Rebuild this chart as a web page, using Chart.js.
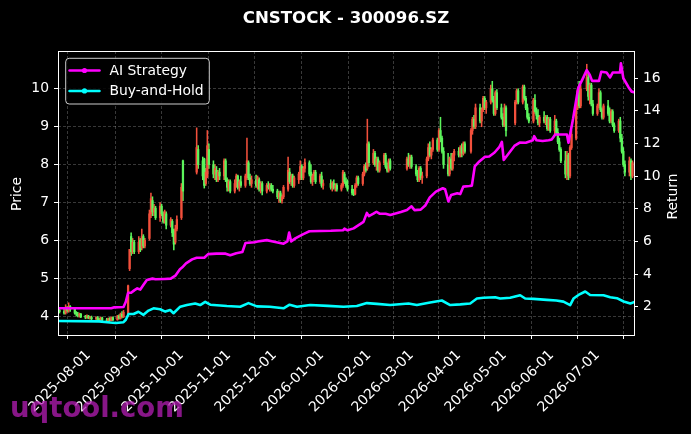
<!DOCTYPE html>
<html><head><meta charset="utf-8">
<script src="https://cdn.jsdelivr.net/npm/chart.js@4.4.1/dist/chart.umd.min.js"></script>
<style>html,body{margin:0;padding:0;background:#000;}#wrap{width:691px;height:434px;}canvas{display:block;}</style>
</head><body><div id="wrap"><canvas id="c" width="691" height="434"></canvas></div>
<script>
const titleText = 'CNSTOCK - 300096.SZ';
const priceLabel = 'Price';
const returnLabel = 'Return';
const watermarkText = 'uqtool.com';

const tradeMonths = ['2025-07','2025-08','2025-09','2025-10','2025-11','2025-12','2026-01','2026-02','2026-03','2026-04','2026-05','2026-06','2026-07'];
const tradeDays = [
  [10,11,14,15,16,17,18,21,22,23,24,25,28,29,30,31],
  [1,4,5,6,7,8,11,12,13,14,15,18,19,20,21,22,25,26,27,28,29],
  [1,2,3,4,5,8,9,10,11,12,15,16,17,18,19,22,23,24,25,26,29,30],
  [9,10,13,14,15,16,17,20,21,22,23,24,27,28,29,30,31],
  [3,4,5,6,7,10,11,12,13,14,17,18,19,20,21,24,25,26,27,28],
  [1,2,3,4,5,8,9,10,11,12,15,16,17,18,19,22,23,24,25,26,29,30,31],
  [5,6,7,8,9,12,13,14,15,16,19,20,21,22,23,26,27,28,29,30],
  [2,3,4,5,6,9,10,11,12,13,24,25,26,27],
  [2,3,4,5,6,9,10,11,12,13,16,17,18,19,20,23,24,25,26,27,30,31],
  [1,2,3,7,8,9,10,13,14,15,16,17,20,21,22,23,24,27,28,29,30],
  [6,7,8,11,12,13,14,15,18,19,20,21,22,25,26,27,28,29],
  [1,2,3,4,5,8,9,10,11,12,15,16,17,18,22,23,24,25,26,29,30],
  [1,2,3,6,7,8,9,10,13,14,15,16,17,20,21,22]
];
const openP = [
  [4.10,4.15,4.12,4.08,4.22,4.15,4.25,4.18,4.08,4.05,4.02,4.05,3.98,3.97,4.00,3.95],
  [3.96,3.93,3.96,3.92,3.88,3.95,3.90,3.86,3.93,3.88,3.96,3.90,4.00,3.94,4.05,3.98,4.05,5.25,6.10,5.70,5.95],
  [5.70,6.00,5.80,6.10,5.85,6.05,6.70,7.05,6.75,6.85,6.60,6.90,6.70,6.50,6.70,6.40,6.50,6.25,5.95,6.30,6.60,8.10],
  [7.80,8.40,8.10,8.15,7.50,7.70,8.40,8.00,7.75,7.85,7.60,7.80,7.70,8.10,7.60,7.40,7.55],
  [7.30,7.50,7.70,7.40,7.55,7.45,7.65,8.05,7.65,7.50,7.60,7.45,7.60,7.35,7.50,7.30,7.45,7.40,7.45,7.35],
  [7.30,7.15,7.25,7.05,7.15,7.35,7.80,7.55,7.70,7.45,7.60,7.75,7.95,7.65,7.90,8.05,7.80,7.55,7.70,7.80,7.55,7.70,7.45],
  [7.50,7.40,7.50,7.40,7.45,7.35,7.45,7.75,7.55,7.45,7.35,7.25,7.22,7.45,7.65,7.50,7.75,7.95,7.90,8.55],
  [8.05,8.30,8.00,8.15,7.85,8.05,8.25,7.95,7.85,8.10,7.90,8.15,8.00,8.20],
  [7.95,7.75,7.60,7.90,7.65,7.70,8.15,8.45,8.25,8.40,8.65,8.40,8.90,8.70,8.35,8.00,7.75,8.15,7.90,8.25,8.35,8.25],
  [8.45,8.30,8.55,8.35,8.90,9.20,9.00,9.50,9.15,9.45,9.75,9.50,9.65,10.00,9.70,9.35,9.90,9.50,9.25,9.05,9.50],
  [9.10,9.65,9.95,9.65,10.05,9.75,9.50,9.25,9.15,9.70,9.40,9.30,9.10,9.25,9.15,9.25,8.95,9.20],
  [8.90,9.15,8.85,8.60,8.40,8.10,7.75,8.25,7.70,8.45,8.70,9.50,9.95,9.55,10.00,10.30,9.80,10.10,9.60,9.35,9.55],
  [9.90,9.45,9.25,9.55,9.35,9.15,9.40,9.05,8.90,9.15,8.70,8.35,8.00,7.80,8.10,7.70]
];
const highP = [
  [4.20,4.20,4.18,4.30,4.25,4.35,4.28,4.22,4.12,4.10,4.08,4.07,4.02,4.03,4.02,3.99],
  [4.00,3.98,3.99,3.95,3.97,3.97,3.94,3.95,3.96,3.98,3.98,4.02,4.03,4.08,4.12,4.15,4.82,5.76,6.20,6.05,6.00],
  [6.10,6.05,6.30,6.15,6.05,6.80,7.25,7.15,6.95,6.90,7.00,6.95,6.75,6.80,6.75,6.60,6.55,6.30,6.40,6.65,7.50,8.12],
  [8.97,8.50,8.20,8.17,7.90,8.90,8.55,8.10,8.00,7.95,7.85,7.90,8.15,8.15,7.65,7.60,7.60],
  [7.60,7.75,7.72,7.60,7.70,7.75,8.70,8.10,7.75,7.70,7.72,7.70,7.65,7.55,7.55,7.50,7.55,7.50,7.50,7.45],
  [7.35,7.30,7.30,7.20,7.45,8.20,7.90,7.75,7.75,7.70,7.80,8.10,8.00,7.95,8.15,8.10,8.00,7.75,7.85,7.85,7.75,7.80,7.60],
  [7.60,7.55,7.60,7.50,7.50,7.50,7.85,7.80,7.65,7.60,7.45,7.35,7.50,7.70,7.70,7.80,8.00,8.05,9.20,8.60],
  [8.40,8.35,8.20,8.20,8.10,8.30,8.30,8.05,8.15,8.15,8.20,8.30,8.25,8.25],
  [8.00,7.85,7.95,7.95,7.80,8.20,8.55,8.60,8.45,8.70,8.70,8.95,9.25,8.75,8.45,8.30,8.20,8.30,8.30,8.40,8.45,8.50],
  [8.55,8.60,8.60,8.95,9.25,9.30,9.60,9.60,9.50,9.80,9.80,9.70,10.10,10.20,9.80,9.95,9.98,9.60,9.35,9.60,9.55],
  [9.70,10.00,10.00,10.10,10.10,9.80,9.60,9.35,9.75,9.85,9.50,9.45,9.30,9.40,9.30,9.30,9.25,9.25],
  [9.30,9.20,8.95,8.70,8.45,8.35,8.35,8.30,8.50,8.90,9.60,10.00,10.20,10.10,10.65,10.40,10.15,10.15,9.70,9.60,10.00],
  [9.95,9.50,9.60,9.70,9.50,9.45,9.45,9.10,9.20,9.25,8.80,8.45,8.10,8.20,8.15,8.10]
];
const lowP = [
  [4.05,4.08,4.05,4.05,4.10,4.10,4.12,4.05,4.00,3.98,3.97,3.96,3.93,3.94,3.93,3.92],
  [3.90,3.90,3.90,3.86,3.86,3.88,3.84,3.85,3.86,3.87,3.88,3.89,3.92,3.92,3.95,3.96,4.00,5.20,5.60,5.65,5.65],
  [5.65,5.70,5.75,5.80,5.80,6.00,6.60,6.65,6.65,6.55,6.50,6.65,6.45,6.45,6.30,6.35,6.10,5.75,5.90,6.25,6.55,7.05],
  [7.75,7.90,7.60,7.38,7.45,7.65,7.90,7.65,7.60,7.55,7.55,7.60,7.60,7.55,7.30,7.30,7.25],
  [7.25,7.40,7.35,7.30,7.40,7.40,7.60,7.60,7.45,7.40,7.40,7.35,7.30,7.25,7.20,7.25,7.35,7.30,7.30,7.25],
  [7.10,7.00,7.00,6.98,7.10,7.30,7.50,7.45,7.40,7.40,7.50,7.60,7.60,7.60,7.80,7.70,7.50,7.45,7.60,7.50,7.50,7.40,7.35],
  [7.35,7.30,7.35,7.30,7.30,7.30,7.40,7.50,7.40,7.30,7.20,7.18,7.20,7.40,7.45,7.45,7.70,7.80,7.85,7.95],
  [8.00,7.95,7.85,7.80,7.80,8.00,7.90,7.80,7.80,7.85,7.85,7.95,7.90,7.90],
  [7.70,7.55,7.55,7.60,7.50,7.65,8.10,8.20,8.15,8.35,8.35,8.35,8.60,8.30,7.90,7.70,7.70,7.85,7.85,8.10,8.20,8.20],
  [8.20,8.25,8.30,8.30,8.80,8.95,8.95,9.10,9.00,9.40,9.45,9.35,9.60,9.65,9.30,9.30,9.45,9.20,9.00,9.00,8.75],
  [9.05,9.60,9.60,9.60,9.70,9.45,9.20,9.10,9.10,9.35,9.20,9.05,9.00,9.10,9.05,8.90,8.90,8.85],
  [8.80,8.80,8.55,8.35,8.05,7.65,7.60,7.60,7.65,8.40,8.65,9.45,9.50,9.50,9.95,9.70,9.60,9.55,9.30,9.30,9.50],
  [9.40,9.20,9.20,9.30,9.10,9.10,9.00,8.85,8.85,8.60,8.30,7.95,7.70,7.70,7.60,7.65]
];
const closeP = [
  [4.15,4.12,4.08,4.22,4.15,4.25,4.18,4.08,4.05,4.02,4.05,3.98,3.97,4.00,3.95,3.96],
  [3.93,3.96,3.92,3.88,3.95,3.90,3.86,3.93,3.88,3.96,3.90,4.00,3.94,4.05,3.98,4.10,4.80,5.76,5.70,5.95,5.70],
  [5.95,5.75,6.10,5.85,6.00,6.70,7.10,6.75,6.85,6.60,6.90,6.70,6.50,6.75,6.40,6.55,6.20,5.90,6.30,6.55,7.40,7.30],
  [8.45,8.00,7.70,7.45,7.80,8.50,8.00,7.75,7.90,7.60,7.80,7.70,8.10,7.60,7.40,7.55,7.30],
  [7.50,7.70,7.40,7.55,7.45,7.70,8.10,7.65,7.50,7.60,7.45,7.65,7.35,7.50,7.30,7.45,7.40,7.45,7.35,7.30],
  [7.15,7.25,7.05,7.15,7.40,7.85,7.55,7.70,7.45,7.65,7.75,7.95,7.65,7.90,8.05,7.75,7.55,7.70,7.80,7.55,7.70,7.45,7.50],
  [7.40,7.50,7.40,7.45,7.35,7.45,7.80,7.55,7.45,7.35,7.25,7.22,7.45,7.65,7.50,7.75,7.95,7.85,8.55,8.05],
  [8.30,8.00,8.15,7.85,8.05,8.25,7.95,7.85,8.10,7.90,8.15,8.00,8.20,7.95],
  [7.75,7.60,7.90,7.65,7.70,8.15,8.45,8.25,8.40,8.65,8.40,8.90,8.70,8.35,8.00,7.75,8.15,7.90,8.25,8.35,8.25,8.45],
  [8.30,8.55,8.35,8.90,9.20,9.00,9.50,9.15,9.45,9.75,9.50,9.65,10.00,9.70,9.35,9.90,9.50,9.25,9.05,9.50,8.90],
  [9.65,9.95,9.65,10.05,9.75,9.50,9.25,9.15,9.70,9.40,9.30,9.10,9.25,9.15,9.25,8.95,9.20,8.90],
  [9.15,8.85,8.60,8.40,8.10,7.75,8.25,7.70,8.45,8.80,9.50,9.95,9.55,10.00,10.30,9.80,10.10,9.60,9.35,9.55,9.90],
  [9.45,9.25,9.55,9.35,9.15,9.40,9.05,8.90,9.15,8.70,8.35,8.00,7.80,8.10,7.70,8.05]
];

// strategy curves: day offset from 2025-08-01 and value on the Return axis
const aiDays = [-22,13,15,21,22.5,24,26,28,30,32,34,36.3,40,42,48,52,55,58,60,62,66,69,74,76.5,82,88,91,95,99,101,107,109,115,119,126,128.5,129.7,131,134,139,143,150,157,165,166,168,172,175,178.5,180.7,182,185,187,189,193,196,203,207,210,212,216,219,222,226,230.5,232,234.2,236,240,242,244,248,249.6,251.5,254.5,258,261,264.5,267.7,269.3,270.5,273,277.5,281,285,289.6,290.5,292,296,300,302,304.3,312,313,316,319.4,322,325,327,328.5,333,334.5,338,340.3,342,346.8,347.4,349,352.4,354.5,356];
const aiReturn = [1.90,1.90,1.96,1.98,2.3,2.85,2.85,3.0,3.12,3.05,3.33,3.64,3.72,3.68,3.7,3.72,3.9,4.3,4.45,4.65,4.9,5.0,5.0,5.22,5.25,5.25,5.15,5.28,5.35,5.9,5.95,6.0,6.08,6.0,5.86,6.0,6.55,6.0,6.2,6.45,6.62,6.64,6.65,6.68,6.78,6.68,6.8,6.98,7.2,7.75,7.55,7.7,7.82,7.7,7.7,7.62,7.8,7.93,8.15,7.92,7.95,8.2,8.7,9.05,9.26,9.2,8.45,8.85,8.95,8.9,9.36,9.4,9.42,10.6,10.9,11.18,11.2,11.45,11.8,12.1,11.0,11.3,11.85,12.06,12.05,12.2,12.45,12.2,12.15,12.2,12.25,12.55,12.55,12.05,13.5,15.4,15.9,16.5,16.2,15.84,15.84,16.4,16.35,16.05,16.35,16.35,16.92,16.0,15.45,15.18,15.15];
const bhDays = [-22,5,12,16,21,22.5,24.3,27.6,30.8,34.1,37.4,40.7,45,48.4,51.6,53.8,58.2,62.6,68,71.3,74.6,77.9,88.8,97.6,103,108.5,117,126,130,134.8,143.5,155,165.4,174.1,180.7,187.3,196,208,213.5,222.2,229.9,235.4,242,248.5,252.9,257.2,264.9,268.2,274.7,281.3,284.6,290,298.8,305,309.7,314.1,316.3,319.6,324,327.2,336,340.4,344.8,349.2,353.6,356];
const bhReturn = [1.12,1.1,1.03,1.0,1.05,1.2,1.55,1.55,1.69,1.5,1.76,1.9,1.84,1.7,1.8,1.6,2.0,2.1,2.2,2.1,2.3,2.12,2.04,2.0,2.22,2.02,2.0,1.9,2.12,2.0,2.1,2.05,2.0,2.04,2.22,2.17,2.1,2.2,2.1,2.26,2.38,2.1,2.14,2.2,2.5,2.55,2.58,2.5,2.55,2.7,2.5,2.48,2.42,2.38,2.31,2.1,2.5,2.72,2.93,2.72,2.7,2.58,2.52,2.32,2.2,2.28];

const tickLabels = ['2025-08-01','2025-09-01','2025-10-01','2025-11-01','2025-12-01','2026-01-01','2026-02-01','2026-03-01','2026-04-01','2026-05-01','2026-06-01','2026-07-01'];
const priceTicks = [4,5,6,7,8,9,10];
const returnTicks = [2,4,6,8,10,12,14,16];
const seriesNames = ['AI Strategy','Buy-and-Hold'];

// ---------- build ----------
const FONT = 'DejaVu Sans';
const UP = '#f2503c', DOWN = '#5cf55c';
const AI_COLOR = '#ff00ff', BH_COLOR = '#00ffff';
function dayOffset(s){const p=s.split('-').map(Number);return (Date.UTC(p[0],p[1]-1,p[2])-Date.UTC(2025,7,1))/864e5;}
const candleX=[];
tradeMonths.forEach((m,i)=>tradeDays[i].forEach(d=>candleX.push(dayOffset(m+'-'+d))));
const O=openP.flat(), H=highP.flat(), L=lowP.flat(), C=closeP.flat();
const wickData=candleX.map((x,i)=>({x,y:[L[i],H[i]]}));
const bodyData=candleX.map((x,i)=>({x,y:[Math.min(O[i],C[i]),Math.max(O[i],C[i])]}));
const candleColor=ctx=>{const i=ctx.dataIndex;return C[i]>=O[i]?UP:DOWN;};
const aiData=aiDays.map((x,i)=>({x,y:aiReturn[i]}));
const bhData=bhDays.map((x,i)=>({x,y:bhReturn[i]}));
const tickVals=tickLabels.map(dayOffset);

const GRID='rgba(255,255,255,0.28)';
const tickFont={family:FONT,size:13.9};

const decor={
  id:'decor',
  afterDatasetsDraw(chart){
    const {ctx,chartArea:a}=chart;
    ctx.save();
    ctx.strokeStyle='#ffffff';ctx.lineWidth=1;ctx.setLineDash([]);
    ctx.strokeRect(a.left+0.5,a.top+0.5,a.right-a.left,a.bottom-a.top);
    // legend
    const lx=65.7,ly=58.3,lw=143.6,lh=45.7,r=3.5;
    ctx.beginPath();
    ctx.moveTo(lx+r,ly);ctx.lineTo(lx+lw-r,ly);ctx.arcTo(lx+lw,ly,lx+lw,ly+r,r);
    ctx.lineTo(lx+lw,ly+lh-r);ctx.arcTo(lx+lw,ly+lh,lx+lw-r,ly+lh,r);
    ctx.lineTo(lx+r,ly+lh);ctx.arcTo(lx,ly+lh,lx,ly+lh-r,r);
    ctx.lineTo(lx,ly+r);ctx.arcTo(lx,ly,lx+r,ly,r);ctx.closePath();
    ctx.fillStyle='rgba(0,0,0,0.85)';ctx.fill();
    ctx.strokeStyle='#cccccc';ctx.lineWidth=1;ctx.stroke();
    const lines=chart.data.datasets.filter(d=>d.type==='line');
    lines.forEach((d,i)=>{
      const y=70.5+i*20.4;
      ctx.strokeStyle=d.borderColor;ctx.lineWidth=2.5;ctx.lineCap='round';
      ctx.beginPath();ctx.moveTo(69.5,y);ctx.lineTo(99.5,y);ctx.stroke();
      ctx.fillStyle=d.borderColor;ctx.beginPath();ctx.arc(84.5,y,2.6,0,Math.PI*2);ctx.fill();
      ctx.fillStyle='#ffffff';ctx.font='13.9px "'+FONT+'"';ctx.textBaseline='middle';ctx.textAlign='left';
      ctx.fillText(d.label,109.5,y+0.5);
    });
    ctx.restore();
  },
  afterDraw(chart){
    const {ctx}=chart;
    ctx.save();
    ctx.fillStyle='#ffffff';ctx.textAlign='center';ctx.textBaseline='middle';
    ctx.font='bold 16.6px "'+FONT+'"';
    ctx.fillText(titleText,346,18.5);
    ctx.font='13.9px "'+FONT+'"';
    ctx.save();ctx.translate(17.5,194);ctx.rotate(-Math.PI/2);ctx.fillText(priceLabel,0,0);ctx.restore();
    ctx.save();ctx.translate(673.5,196.5);ctx.rotate(-Math.PI/2);ctx.fillText(returnLabel,0,0);ctx.restore();
    ctx.font='bold 27.5px "'+FONT+'"';ctx.textAlign='left';ctx.textBaseline='alphabetic';
    ctx.fillStyle='rgba(180,30,180,0.75)';
    ctx.fillText(watermarkText,10,417);
    ctx.restore();
  }
};

new Chart(document.getElementById('c'),{
  type:'bar',
  data:{datasets:[
    {type:'line',label:seriesNames[0],data:aiData,xAxisID:'x',yAxisID:'y1',borderColor:AI_COLOR,backgroundColor:AI_COLOR,borderWidth:2.6,borderJoinStyle:'round',borderCapStyle:'round',pointRadius:0,tension:0,order:0},
    {type:'line',label:seriesNames[1],data:bhData,xAxisID:'x',yAxisID:'y1',borderColor:BH_COLOR,backgroundColor:BH_COLOR,borderWidth:2.6,borderJoinStyle:'round',borderCapStyle:'round',pointRadius:0,tension:0,order:0},
    {type:'bar',label:'body',data:bodyData,xAxisID:'x',yAxisID:'y',backgroundColor:candleColor,barThickness:1.6,grouped:false,minBarLength:1,order:1},
    {type:'bar',label:'wick',data:wickData,xAxisID:'x',yAxisID:'y',backgroundColor:candleColor,barThickness:0.9,grouped:false,order:2}
  ]},
  options:{
    responsive:false,animation:false,events:[],devicePixelRatio:1,
    layout:{padding:{top:51,left:0,right:0,bottom:0}},
    plugins:{legend:{display:false},title:{display:false},tooltip:{enabled:false}},
    scales:{
      x:{type:'linear',min:-22,max:356,offset:false,position:'bottom',
        afterBuildTicks:s=>{s.ticks=tickVals.map(v=>({value:v}));},
        afterFit:s=>{s.height=99;},
        ticks:{autoSkip:false,minRotation:45,maxRotation:45,color:'#ffffff',font:tickFont,padding:8,labelOffset:-3,callback:(v,i)=>tickLabels[i]},
        grid:{color:GRID,lineWidth:0.8,tickColor:'#ffffff',tickLength:4,tickWidth:1},
        border:{display:false,dash:[3,2]}},
      y:{type:'linear',position:'left',min:3.5,max:11.0,
        afterBuildTicks:s=>{s.ticks=priceTicks.map(v=>({value:v}));},
        afterFit:s=>{s.width=58;},
        ticks:{color:'#ffffff',font:tickFont,padding:5},
        grid:{color:GRID,lineWidth:0.8,tickColor:'#ffffff',tickLength:4,tickWidth:1},
        border:{display:false,dash:[3,2]}},
      y1:{type:'linear',position:'right',min:0.265,max:17.67,
        afterBuildTicks:s=>{s.ticks=returnTicks.map(v=>({value:v}));},
        afterFit:s=>{s.width=57;},
        ticks:{color:'#ffffff',font:tickFont,padding:5},
        grid:{drawOnChartArea:false,tickColor:'#ffffff',tickLength:4,tickWidth:1},
        border:{display:false}}
    }
  },
  plugins:[decor]
});
</script></body></html>
